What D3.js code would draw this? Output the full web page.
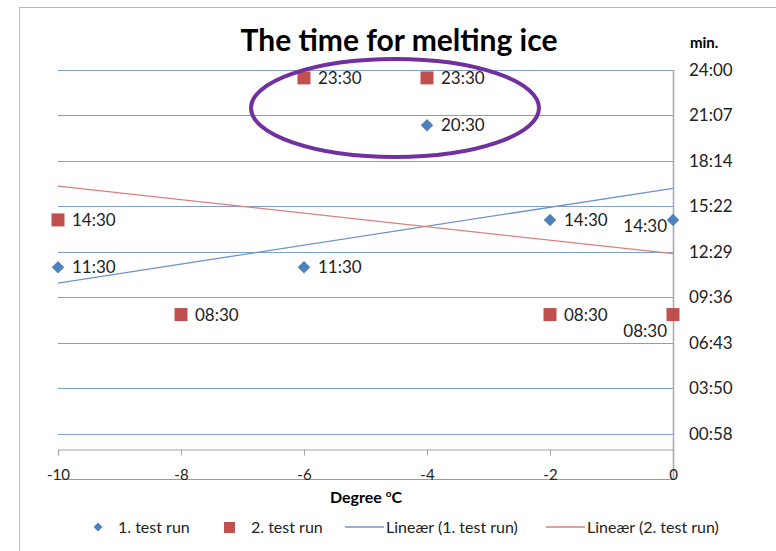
<!DOCTYPE html>
<html><head><meta charset="utf-8">
<script src="https://cdn.jsdelivr.net/npm/d3@7"></script>
<style>body{margin:0;background:#fff}svg{display:block}text{font-family:Lato,"Open Sans",sans-serif}</style>
</head><body><svg id="c" width="776" height="551"></svg>
<script>
const temps1 = [-10, -8, -6, -4, -2, 0];
const run1 = ["11:30", "08:30", "11:30", "20:30", "14:30", "14:30"];
const temps2 = [-10, -8, -6, -4, -2, 0];
const run2 = ["14:30", "08:30", "23:30", "23:30", "08:30", "08:30"];
const xTicks = [-10, -8, -6, -4, -2, 0];
const yTickMinutes = [57.6, 230.4, 403.2, 576, 748.8, 921.6, 1094.4, 1267.2, 1440];
const yTickLabels = ["00:58", "03:50", "06:43", "09:36", "12:29", "15:22", "18:14", "21:07", "24:00"];
const legendLabels = ["1. test run", "2. test run", "Lineær (1. test run)", "Lineær (2. test run)"];

const toMin = s => { const [h, m] = s.split(":").map(Number); return h * 60 + m; };
const blue = "#4F81BD", red = "#C0504D", grid = "#7FA0CF";

const svg = d3.select("#c");
svg.append("rect").attr("x", 19.5).attr("y", 7.5).attr("width", 760).attr("height", 550).attr("fill", "#fff").attr("stroke", "#b8b8b8");

const x = d3.scaleLinear().domain([-10, 0]).range([58, 673]);
const y = d3.scaleLinear().domain([-115.2, 1440]).range([479, 70]);

// gridlines
const gridVals = [-115.2].concat(yTickMinutes);
svg.append("g").selectAll("line").data(gridVals).join("line")
  .attr("x1", x(-10)).attr("x2", x(0)).attr("y1", d => Math.round(y(d)) + 0.5).attr("y2", d => Math.round(y(d)) + 0.5)
  .attr("stroke", grid).attr("stroke-width", 1.2);

// y axis (at x=0)
const yAxis = d3.axisRight(y).tickValues(yTickMinutes).tickFormat((d, i) => yTickLabels[i]).tickSize(0).tickPadding(16);
const gy = svg.append("g").attr("transform", `translate(${x(0)},0)`).call(yAxis);
gy.select(".domain").remove();
gy.selectAll("text").attr("font-size", 17).attr("fill", "#222").attr("font-family", "Lato");
svg.append("line").attr("x1", x(0) + 0.5).attr("x2", x(0) + 0.5).attr("y1", y(1440)).attr("y2", y(-115.2)).attr("stroke", "#a6a6a6").attr("stroke-width", 1.5);

// x axis (at y=0)
const xAxis = d3.axisBottom(x).tickValues(xTicks).tickSize(6).tickPadding(14).tickFormat(d3.format("d"));
const gx = svg.append("g").attr("transform", `translate(0,${Math.round(y(0)) + 0.5})`).call(xAxis);
gx.select(".domain").attr("stroke", "#a6a6a6").attr("stroke-width", 1.2);
gx.selectAll(".tick line").attr("stroke", "#a6a6a6");
gx.selectAll("text").attr("font-size", 15).attr("fill", "#222").attr("font-family", "Lato").text(d => String(d));

// trendlines
function reg(xs, ys) {
  const mx = d3.mean(xs), my = d3.mean(ys);
  const sxy = d3.sum(xs, (v, i) => (v - mx) * (ys[i] - my));
  const sxx = d3.sum(xs, v => (v - mx) ** 2);
  const b = sxy / sxx; return v => my + b * (v - mx);
}
const f1 = reg(temps1, run1.map(toMin)), f2 = reg(temps2, run2.map(toMin));
svg.append("line").attr("x1", x(-10)).attr("x2", x(0)).attr("y1", y(f1(-10))).attr("y2", y(f1(0))).attr("stroke", "#6F94C8").attr("stroke-width", 1.3);
svg.append("line").attr("x1", x(-10)).attr("x2", x(0)).attr("y1", y(f2(-10))).attr("y2", y(f2(0))).attr("stroke", "#D9807D").attr("stroke-width", 1.3);

const diamond = d3.symbol().type(d3.symbolDiamond2).size(100);
const sq = 13;
// series 1
const s1 = temps1.map((t, i) => ({t, v: toMin(run1[i]), lab: run1[i]}));
svg.append("g").selectAll("path").data(s1).join("path").attr("d", diamond)
  .attr("transform", d => `translate(${x(d.t)},${y(d.v)})`).attr("fill", blue);
// series 2
const s2 = temps2.map((t, i) => ({t, v: toMin(run2[i]), lab: run2[i]}));
svg.append("g").selectAll("rect").data(s2).join("rect")
  .attr("x", d => x(d.t) - sq / 2).attr("y", d => y(d.v) - sq / 2).attr("width", sq).attr("height", sq).attr("fill", red);

// data labels (series-1 label at -8 is hidden under series-2's identical label)
function labels(data, dyEdge) {
  svg.append("g").selectAll("text").data(data).join("text")
    .attr("x", d => d.t === 0 ? x(d.t) - 6 : x(d.t) + 14)
    .attr("y", d => d.t === 0 ? y(d.v) + dyEdge : y(d.v) + 6)
    .attr("text-anchor", d => d.t === 0 ? "end" : "start")
    .attr("font-size", 17).attr("fill", "#222").text(d => d.lab);
}
labels(s1.filter(d => d.t !== -8), 12);
labels(s2, 22);

// title etc
svg.append("text").attr("x", 399).attr("y", 51).attr("text-anchor", "middle").attr("font-size", 30).attr("font-weight", "bold").attr("fill", "#000").text("The time for melting ice");
svg.append("text").attr("x", 690).attr("y", 48).attr("font-size", 15).attr("font-weight", "bold").attr("fill", "#000").text("min.");
const at = svg.append("text").attr("x", 366).attr("y", 503).attr("text-anchor", "middle").attr("font-size", 16).attr("font-weight", "bold").attr("fill", "#000");
at.append("tspan").text("Degree ");
at.append("tspan").attr("font-size", 10).attr("dy", -6).text("o");
at.append("tspan").attr("dy", 6).text("C");

// legend
const ly = 527;
const lg = svg.append("g");
lg.append("path").attr("d", d3.symbol().type(d3.symbolDiamond2).size(50)).attr("transform", `translate(98,${ly})`).attr("fill", blue);
lg.append("rect").attr("x", 224).attr("y", ly - 5).attr("width", 11).attr("height", 11).attr("fill", red);
lg.append("line").attr("x1", 345).attr("x2", 384).attr("y1", ly).attr("y2", ly).attr("stroke", "#6F94C8").attr("stroke-width", 1.5);
lg.append("line").attr("x1", 546).attr("x2", 585).attr("y1", ly).attr("y2", ly).attr("stroke", "#D9807D").attr("stroke-width", 1.5);
const lx = [118, 251, 386, 587];
lg.selectAll("text").data(legendLabels).join("text").attr("x", (d, i) => lx[i]).attr("y", ly + 6)
  .attr("font-size", 16).attr("fill", "#222").text(d => d);

// highlight ellipse
svg.append("ellipse").attr("cx", 395).attr("cy", 108).attr("rx", 144).attr("ry", 49)
  .attr("fill", "none").attr("stroke", "#7030A0").attr("stroke-width", 4);
</script></body></html>
